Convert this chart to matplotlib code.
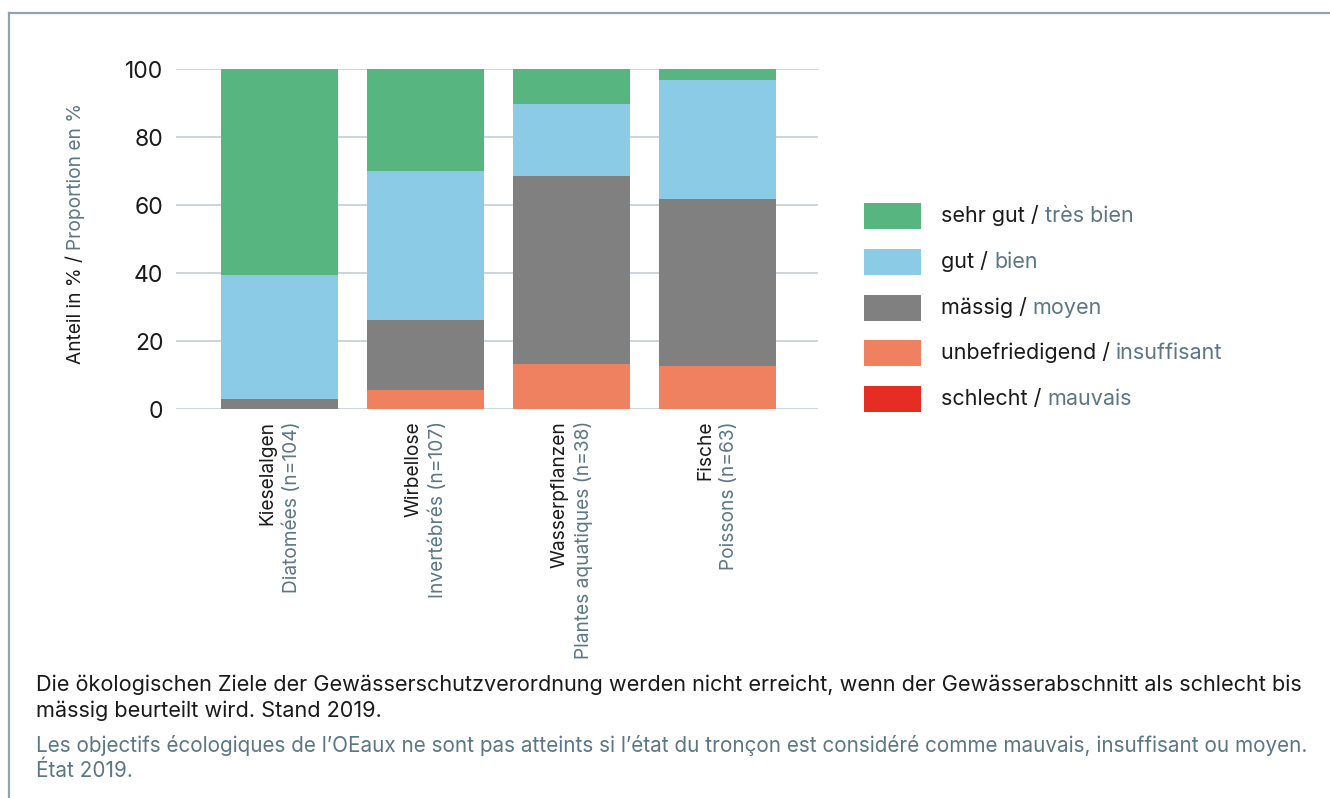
import numpy as np
import matplotlib
matplotlib.use("Agg")
import matplotlib.pyplot as plt
from matplotlib.lines import Line2D
from matplotlib.patches import Rectangle
from matplotlib.transforms import blended_transform_factory, ScaledTranslation

plt.rcParams['font.family'] = ['Inter', 'DejaVu Sans']

# Data (percent of river sections per rating)
groups_de = ["Kieselalgen", "Wirbellose", "Wasserpflanzen", "Fische"]
groups_fr = ["Diatomées (n=104)", "Invertébrés (n=107)",
             "Plantes aquatiques (n=38)", "Poissons (n=63)"]

sehr_gut = [60.6, 29.9, 10.5, 3.2]
gut = [36.5, 43.9, 21.1, 34.9]
maessig = [2.9, 20.6, 55.3, 49.2]
unbefriedigend = [0.0, 5.6, 13.2, 12.7]
schlecht = [0.0, 0.0, 0.0, 0.0]

# bottom -> top stacking order
series = [schlecht, unbefriedigend, maessig, gut, sehr_gut]
labels_de = ["schlecht / ", "unbefriedigend / ", "mässig / ", "gut / ", "sehr gut / "]
labels_fr = ["mauvais", "insuffisant", "moyen", "bien", "très bien"]
colors = ["#e52d24", "#ef8060", "#7f807f", "#8ccbe5", "#57b580"]

yticks = [0, 20, 40, 60, 80, 100]

caption_de = ["Die ökologischen Ziele der Gewässerschutzverordnung werden nicht erreicht, wenn der Gewässerabschnitt als schlecht bis",
              "mässig beurteilt wird. Stand 2019."]
caption_fr = ["Les objectifs écologiques de l’OEaux ne sont pas atteints si l’état du tronçon est considéré comme mauvais, insuffisant ou moyen.",
              "État 2019."]

BLACK = "#1a1a1a"
FRCOL = "#5b7785"
GRID = "#c8d2da"
FS = 15.5       # legend
FS_TICK = 16.5
FS_AX = 13.8    # axis / category labels
FS_DE = 15.6
FS_FR = 14.9

W, H = 1330, 798
fig = plt.figure(figsize=(W / 100, H / 100), dpi=100)

def fx(px):
    return px / W

def fy(py):
    return 1 - py / H

ax = fig.add_axes([fx(176), fy(409), fx(818) - fx(176), fy(69) - fy(409)])

x = np.arange(len(groups_de))
bottom = np.zeros(len(x))
for vals, col in zip(series, colors):
    ax.bar(x, vals, width=0.8, bottom=bottom, color=col, linewidth=0, zorder=2)
    bottom += np.array(vals)

ax.set_xlim(-0.71, 3.69)
ax.set_ylim(0, 100)
ax.set_yticks(yticks)
ax.set_yticklabels([str(v) for v in yticks], fontsize=FS_TICK, color=BLACK)
ax.tick_params(axis='y', length=0, pad=9)
ax.set_xticks([])
ax.grid(axis='y', color=GRID, linewidth=1.3, zorder=0)
for s in ax.spines.values():
    s.set_visible(False)

# rotated two-line category labels
trans = blended_transform_factory(ax.transData, ax.transAxes)
for i in range(len(groups_de)):
    ax.text(i, -0.035, groups_de[i], rotation=90, ha='center', va='top',
            fontsize=FS_AX, color=BLACK,
            transform=trans + ScaledTranslation(-12 / 100, 0, fig.dpi_scale_trans))
    ax.text(i, -0.035, groups_fr[i], rotation=90, ha='center', va='top',
            fontsize=FS_AX, color=FRCOL,
            transform=trans + ScaledTranslation(12 / 100, 0, fig.dpi_scale_trans))

# y label in two colours
t1 = fig.text(fx(76), fy(364), "Anteil in % / ", rotation=90, ha='center', va='bottom',
              fontsize=FS_AX, color=BLACK)
ax.annotate("Proportion en %", xy=(0.5, 1), xycoords=t1, rotation=90,
            ha='center', va='bottom', fontsize=FS_AX, color=FRCOL, annotation_clip=False)

# legend (top to bottom: sehr gut ... schlecht)
row_y = [216, 262, 308, 353, 399]
for k, i in enumerate(range(len(series) - 1, -1, -1)):
    cy = row_y[k]
    fig.add_artist(Rectangle((fx(864), fy(cy + 13)), fx(921) - fx(864), 26 / H,
                             transform=fig.transFigure, facecolor=colors[i],
                             edgecolor='none'))
    tl = fig.text(fx(941), fy(cy), labels_de[i], ha='left', va='center',
                  fontsize=FS, color=BLACK)
    ax.annotate(labels_fr[i], xy=(1, 0), xycoords=tl, ha='left', va='bottom',
                fontsize=FS, color=FRCOL, annotation_clip=False)

# caption
for txt, py in zip(caption_de, [685, 711]):
    fig.text(fx(36), fy(py), txt, ha='left', va='center', fontsize=FS_DE, color=BLACK)
for txt, py in zip(caption_fr, [746, 771]):
    fig.text(fx(36), fy(py), txt, ha='left', va='center', fontsize=FS_FR, color=FRCOL)

# frame (top and left edges)
frame_col = "#8fa4ae"
fig.add_artist(Line2D([fx(9), 1], [fy(13), fy(13)], color=frame_col, lw=1.6,
                      transform=fig.transFigure))
fig.add_artist(Line2D([fx(9), fx(9)], [fy(13), 0], color=frame_col, lw=1.6,
                      transform=fig.transFigure))

fig.savefig("out.png", dpi=100)
